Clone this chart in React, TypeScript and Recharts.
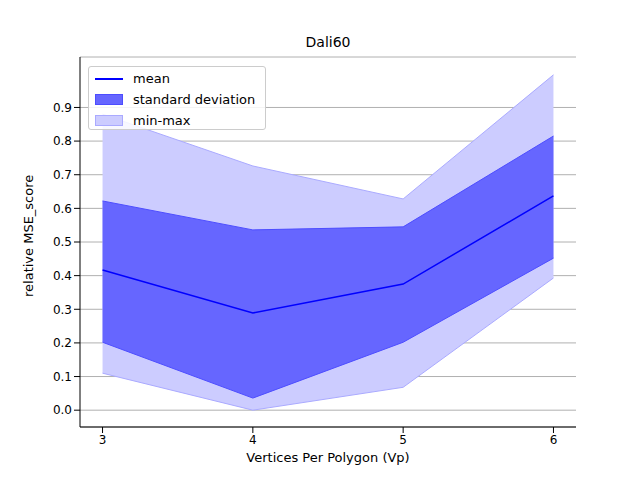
import { ComposedChart, Area, Line, XAxis, YAxis, CartesianGrid } from 'recharts'

const vertices = [3, 4, 5, 6]
const meanValues = [0.417, 0.289, 0.375, 0.637]
const stdLow = [0.202, 0.036, 0.202, 0.452]
const stdHigh = [0.622, 0.536, 0.545, 0.815]
const minValues = [0.11, 0.0, 0.068, 0.393]
const maxValues = [0.88, 0.726, 0.628, 0.997]
const yTicks = [0, 0.1, 0.2, 0.3, 0.4, 0.5, 0.6, 0.7, 0.8, 0.9]

const data = vertices.map((v, i) => ({
  vp: v,
  mean: meanValues[i],
  std: [stdLow[i], stdHigh[i]],
  range: [minValues[i], maxValues[i]]
}))

const font = 'DejaVu Sans, sans-serif'
const tick = { fontSize: 12, fill: '#000', fontFamily: font }

function LegendBox() {
  const row = { display: 'flex', alignItems: 'center', height: 21 }
  const sw = { width: 28, marginRight: 10 }
  return (
    <div style={{ position: 'absolute', left: 88, top: 66, width: 178, height: 64, border: '1px solid #ccc', borderRadius: 3, background: 'rgba(255,255,255,0.85)', fontFamily: font, fontSize: 13, padding: '1px 6px', boxSizing: 'border-box' }}>
      <div style={row}><div style={{ ...sw, height: 2, background: '#0000ff' }} />mean</div>
      <div style={row}><div style={{ ...sw, height: 11, background: '#6666ff', border: '1px solid #4d4dff', boxSizing: 'border-box' }} />standard deviation</div>
      <div style={row}><div style={{ ...sw, height: 11, background: '#ccccff', border: '1px solid #aaaaff', boxSizing: 'border-box' }} />min-max</div>
    </div>
  )
}

export default function App() {
  return (
    <div style={{ position: 'relative', width: 640, height: 480, margin: -8, background: '#fff' }}>
      <div style={{ position: 'absolute', top: 34, width: 640, paddingLeft: 16, textAlign: 'center', fontFamily: font, fontSize: 14, boxSizing: 'border-box' }}>Dali60</div>
      <ComposedChart width={640} height={480} data={data} margin={{ top: 57, right: 64, left: 20, bottom: 13 }}>
        <CartesianGrid vertical={false} stroke="#b0b0b0" />
        <XAxis dataKey="vp" type="number" domain={[2.85, 6.15]} ticks={vertices} tick={tick} stroke="#000" height={40}
          label={{ value: 'Vertices Per Polygon (Vp)', position: 'insideBottom', offset: 5, fontSize: 13, fill: '#000', fontFamily: font }} />
        <XAxis xAxisId="top" orientation="top" dataKey="vp" type="number" domain={[2.85, 6.15]} tick={false} tickLine={false} height={0} stroke="#000" />
        <YAxis type="number" domain={[-0.05, 1.05]} ticks={yTicks} tickFormatter={(v: number) => v.toFixed(1)} tick={tick} stroke="#000" width={60}
          label={{ value: 'relative MSE_score', angle: -90, position: 'insideLeft', offset: 8, dy: 55, fontSize: 13, fill: '#000', fontFamily: font }} />
        <YAxis yAxisId="right" orientation="right" domain={[-0.05, 1.05]} tick={false} tickLine={false} width={0} stroke="#000" />
        <Area dataKey="range" type="linear" fill="#ccccff" fillOpacity={1} stroke="#aaaaff" strokeWidth={1} isAnimationActive={false} />
        <Area dataKey="std" type="linear" fill="#6666ff" fillOpacity={1} stroke="#4d4dff" strokeWidth={1} isAnimationActive={false} />
        <Line dataKey="mean" type="linear" stroke="#0000ff" strokeWidth={1.5} dot={false} isAnimationActive={false} />
      </ComposedChart>
      <LegendBox />
    </div>
  )
}
